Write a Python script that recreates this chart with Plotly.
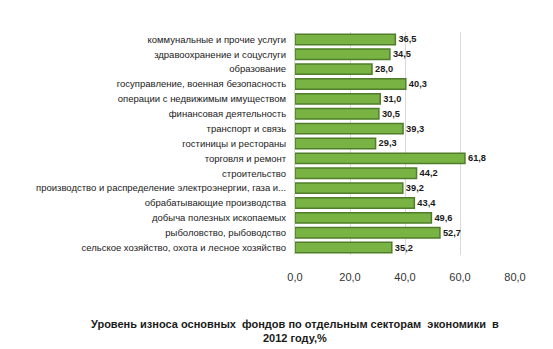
import plotly.graph_objects as go

categories = [
    "коммунальные и прочие услуги",
    "здравоохранение и соцуслуги",
    "образование",
    "госуправление, военная безопасность",
    "операции с недвижимым имуществом",
    "финансовая деятельность",
    "транспорт и связь",
    "гостиницы и рестораны",
    "торговля и ремонт",
    "строительство",
    "производство и распределение электроэнергии, газа и...",
    "обрабатывающие производства",
    "добыча полезных ископаемых",
    "рыболовство, рыбоводство",
    "сельское хозяйство, охота и лесное хозяйство",
]
values = [36.5, 34.5, 28.0, 40.3, 31.0, 30.5, 39.3, 29.3, 61.8, 44.2, 39.2, 43.4, 49.6, 52.7, 35.2]
tick_vals = [0, 20, 40, 60, 80]

fig = go.Figure()
fig.add_trace(go.Bar(
    x=values, y=categories, orientation="h",
    marker=dict(color="#78B343", line=dict(color="#4F7D2A", width=1.5)),
    width=0.7,
    text=values, texttemplate="%{x:.1f}", textposition="outside",
    textfont=dict(family="Liberation Sans", size=12.5, color="#1a1a1a", weight="bold"),
    cliponaxis=False,
))

fig.update_layout(
    width=553, height=349,
    margin=dict(l=295, r=38, t=32, b=94),
    paper_bgcolor="white", plot_bgcolor="white",
    separators=", ",
    showlegend=False,
    font=dict(family="Liberation Sans", color="#1a1a1a"),
    xaxis=dict(range=[0, 80], tickvals=tick_vals, tickformat=".1f",
               showgrid=True, gridcolor="#D9D9D9", gridwidth=1,
               zeroline=False, showline=False, ticks="", ticklabelstandoff=14,
               tickfont=dict(size=11, color="#333333"), fixedrange=True),
    yaxis=dict(autorange="reversed", showgrid=False, zeroline=False,
               showline=True, linecolor="#D9D9D9", ticks="", ticklabelstandoff=6,
               tickfont=dict(size=9.5, color="#1a1a1a")),
    annotations=[dict(
        text="<b>Уровень износа основных  фондов по отдельным секторам  экономики  в<br>2012 году,%</b>",
        x=0, xref="paper", y=-(316 - 255) / (349 - 32 - 94), yref="paper",
        xanchor="center", yanchor="top", showarrow=False,
        font=dict(size=11, color="#1a1a1a"),
    )],
)

fig.write_html("out.html")
